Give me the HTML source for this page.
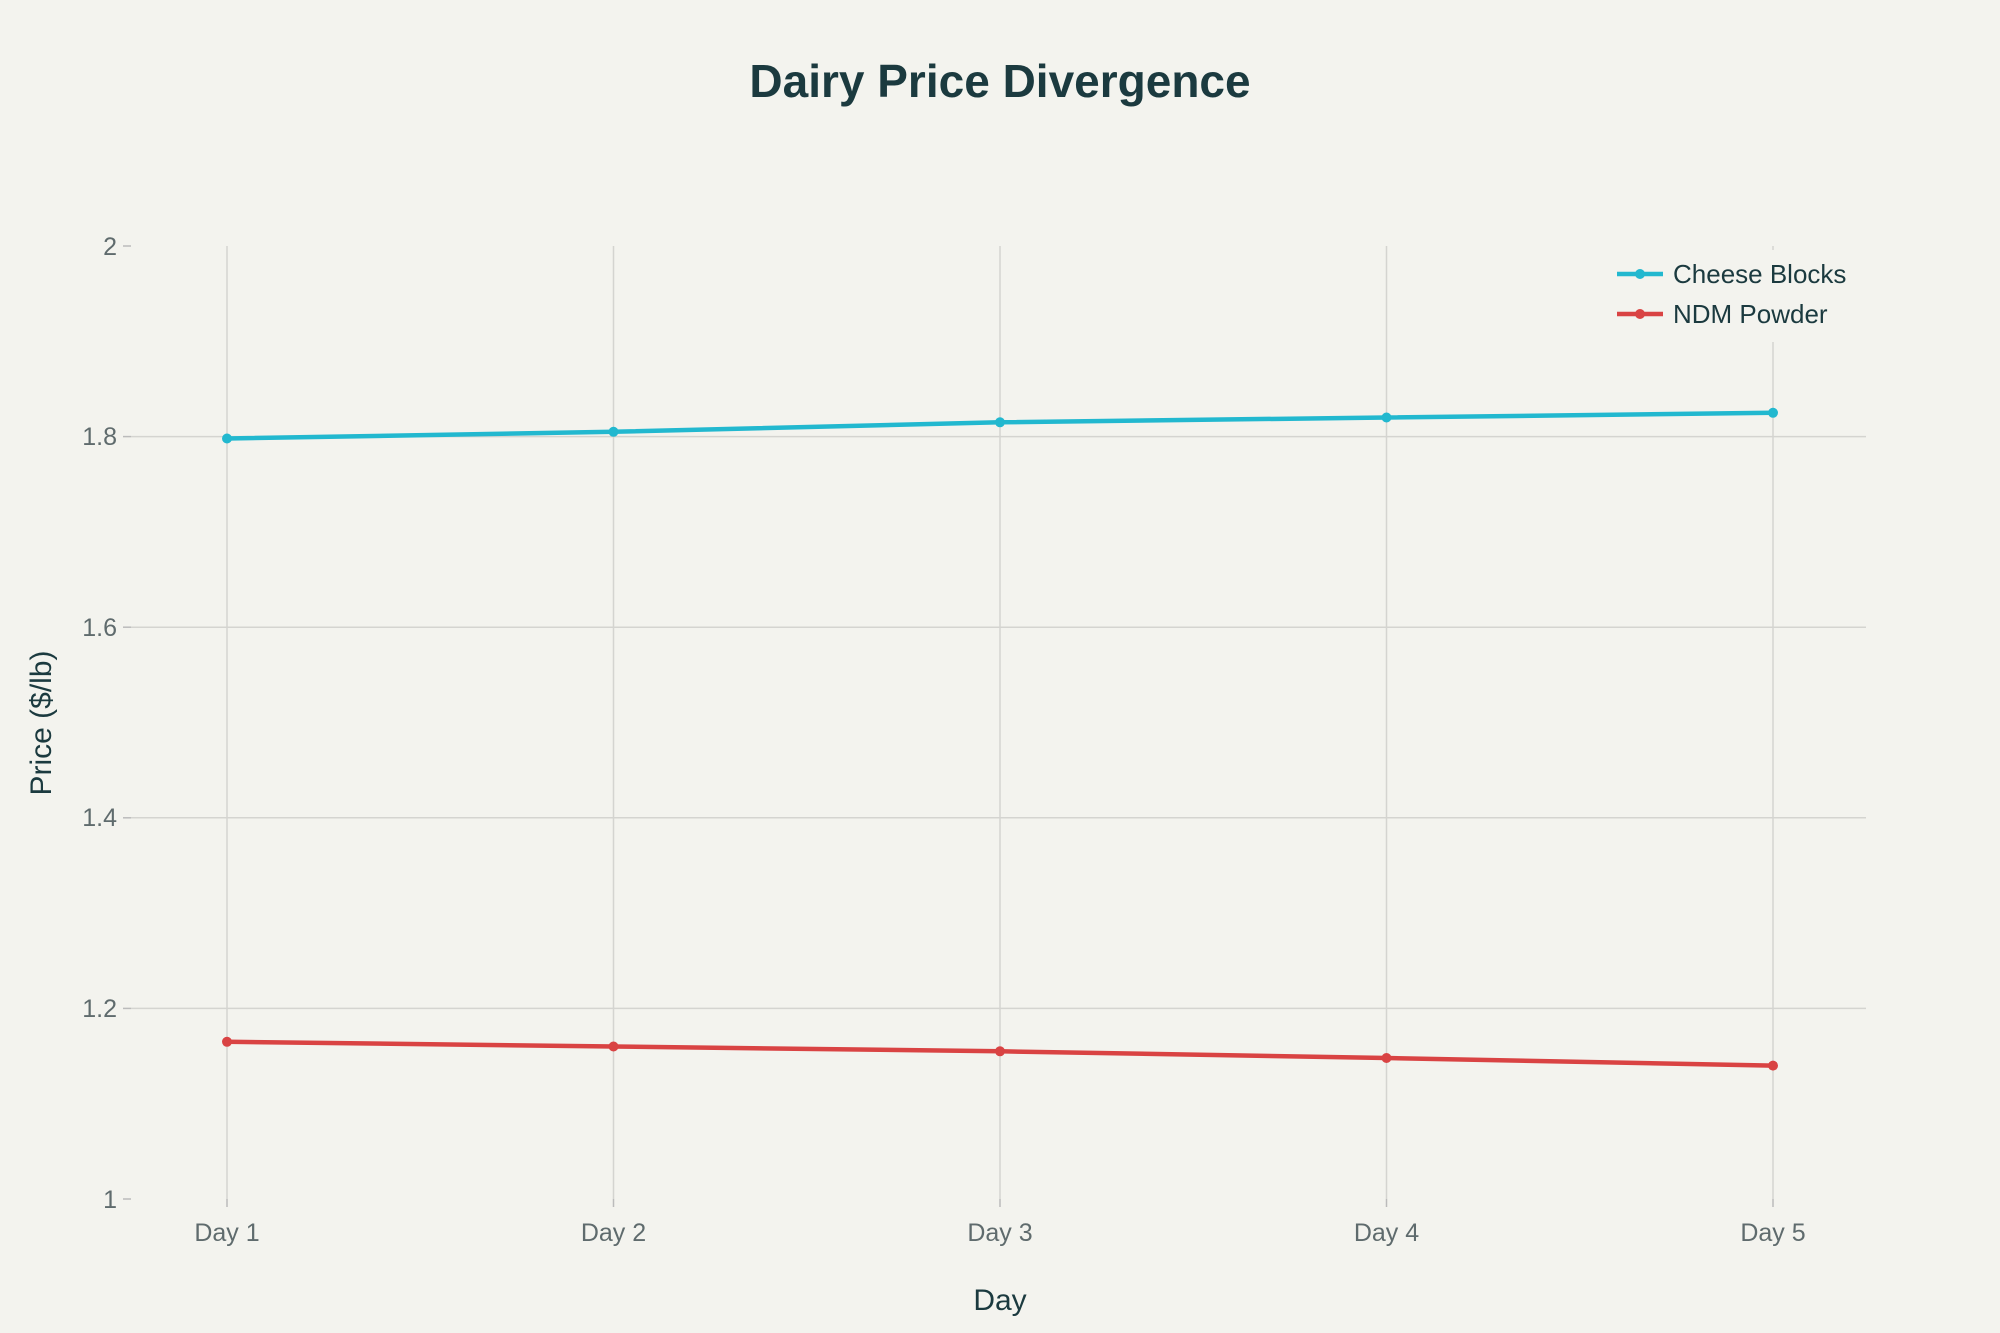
<!DOCTYPE html>
<html><head><meta charset="utf-8"><style>
html,body{margin:0;padding:0;background:#f3f3ee;}
svg{display:block;font-family:"Liberation Sans",sans-serif;}
</style></head><body>
<svg width="2000" height="1333" viewBox="0 0 2000 1333" xmlns="http://www.w3.org/2000/svg">
<rect width="2000" height="1333" fill="#f3f3ee"/>
<text x="1000" y="97" text-anchor="middle" font-size="46" font-weight="bold" fill="#1b3a3f">Dairy Price Divergence</text>
<g stroke="#d4d4d0" stroke-width="1.5">
<line x1="131" x2="1866" y1="1008.4" y2="1008.4"/>
<line x1="131" x2="1866" y1="817.8" y2="817.8"/>
<line x1="131" x2="1866" y1="627.2" y2="627.2"/>
<line x1="131" x2="1866" y1="436.6" y2="436.6"/>
<line x1="227" x2="227" y1="246" y2="1199"/>
<line x1="613.5" x2="613.5" y1="246" y2="1199"/>
<line x1="1000" x2="1000" y1="246" y2="1199"/>
<line x1="1386.5" x2="1386.5" y1="246" y2="1199"/>
<line x1="1773" x2="1773" y1="246" y2="1199"/>
</g>
<g stroke="#bbb" stroke-width="1.5">
<line x1="123" x2="131" y1="246" y2="246"/><line x1="123" x2="131" y1="436.6" y2="436.6"/>
<line x1="123" x2="131" y1="627.2" y2="627.2"/><line x1="123" x2="131" y1="817.8" y2="817.8"/>
<line x1="123" x2="131" y1="1008.4" y2="1008.4"/><line x1="123" x2="131" y1="1199" y2="1199"/>
<line x1="227" x2="227" y1="1199" y2="1207"/><line x1="613.5" x2="613.5" y1="1199" y2="1207"/>
<line x1="1000" x2="1000" y1="1199" y2="1207"/><line x1="1386.5" x2="1386.5" y1="1199" y2="1207"/>
<line x1="1773" x2="1773" y1="1199" y2="1207"/>
</g>
<g font-size="25" fill="#5f6b6d" text-anchor="end">
<text x="117" y="255">2</text><text x="117" y="445">1.8</text><text x="117" y="636">1.6</text>
<text x="117" y="826">1.4</text><text x="117" y="1017">1.2</text><text x="117" y="1208">1</text>
</g>
<g font-size="25" fill="#5f6b6d" text-anchor="middle">
<text x="227" y="1241">Day 1</text><text x="613.5" y="1241">Day 2</text><text x="1000" y="1241">Day 3</text>
<text x="1386.5" y="1241">Day 4</text><text x="1773" y="1241">Day 5</text>
</g>
<text x="1000" y="1310" text-anchor="middle" font-size="30" fill="#1b3a3f">Day</text>
<text transform="translate(51,723) rotate(-90)" text-anchor="middle" font-size="30" fill="#1b3a3f">Price ($/lb)</text>
<rect x="1607" y="250" width="259" height="92" fill="#f3f3ee"/>
<polyline fill="none" stroke="#22b8cf" stroke-width="4.5" points="227,438.5 613.5,431.8 1000,422.3 1386.5,417.5 1773,412.8"/>
<g fill="#22b8cf"><circle cx="227" cy="438.5" r="5"/><circle cx="613.5" cy="431.8" r="5"/><circle cx="1000" cy="422.3" r="5"/><circle cx="1386.5" cy="417.5" r="5"/><circle cx="1773" cy="412.8" r="5"/></g>
<polyline fill="none" stroke="#d94343" stroke-width="4.5" points="227,1041.8 613.5,1046.5 1000,1051.3 1386.5,1058 1773,1065.6"/>
<g fill="#d94343"><circle cx="227" cy="1041.8" r="5"/><circle cx="613.5" cy="1046.5" r="5"/><circle cx="1000" cy="1051.3" r="5"/><circle cx="1386.5" cy="1058" r="5"/><circle cx="1773" cy="1065.6" r="5"/></g>
<line x1="1617" x2="1663" y1="274" y2="274" stroke="#22b8cf" stroke-width="4.5"/><circle cx="1640" cy="274" r="5" fill="#22b8cf"/>
<line x1="1617" x2="1663" y1="314" y2="314" stroke="#d94343" stroke-width="4.5"/><circle cx="1640" cy="314" r="5" fill="#d94343"/>
<text x="1673" y="283" font-size="26" fill="#1b3a3f">Cheese Blocks</text>
<text x="1673" y="323" font-size="26" fill="#1b3a3f">NDM Powder</text>
</svg>
</body></html>
